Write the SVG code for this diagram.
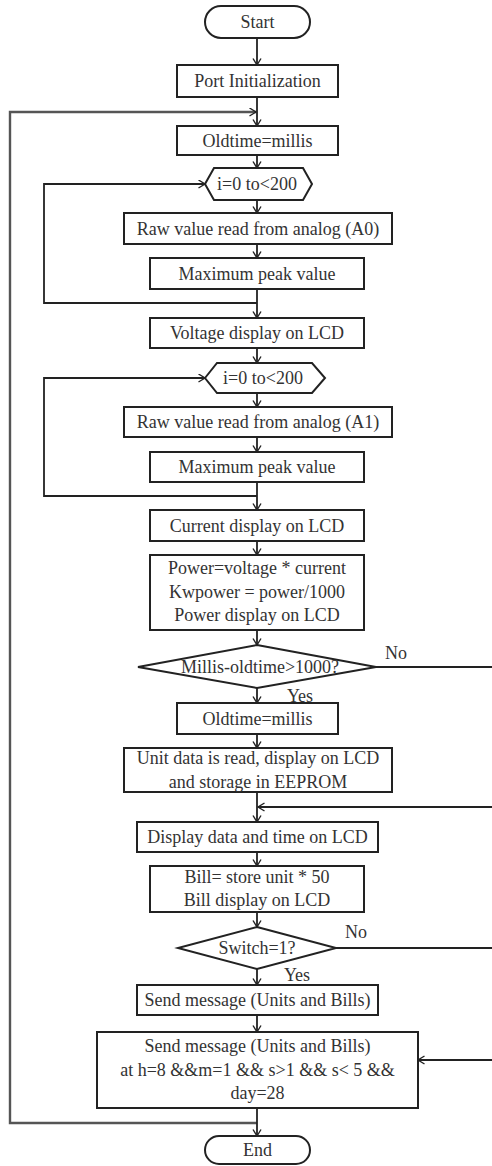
<svg xmlns="http://www.w3.org/2000/svg" width="492" height="1166" viewBox="0 0 492 1166">
<defs>
<marker id="ar" markerUnits="userSpaceOnUse" markerWidth="10" markerHeight="10" refX="7" refY="4.5" orient="auto">
<path d="M0.5,0.5 L7,4.5 L0.5,8.5" fill="none" stroke="#222" stroke-width="1.4"/>
</marker>
<style>
.b{fill:#fff;stroke:#222;stroke-width:2}
.t{font-family:"Liberation Serif","Times New Roman",serif;font-size:18px;fill:#333;text-anchor:middle}
.c{fill:none;stroke:#222;stroke-width:1.8}
.o{fill:none;stroke:#555;stroke-width:2.4}
</style>
</defs>
<rect width="492" height="1166" fill="#fff"/>
<g id="connectors">
<path class="c" d="M257,38 V65" marker-end="url(#ar)"/>
<path class="c" d="M257,97 V126" marker-end="url(#ar)"/>
<path class="o" d="M257,1123 H10 V112 H256" marker-end="url(#ar)"/>
<path class="c" d="M257,155 V168" marker-end="url(#ar)"/>
<path class="c" d="M257,200 V213" marker-end="url(#ar)"/>
<path class="c" d="M257,244 V258" marker-end="url(#ar)"/>
<path class="c" d="M257,289 V318" marker-end="url(#ar)"/>
<path class="c" d="M257,303 H44 V184 H205" marker-end="url(#ar)"/>
<path class="c" d="M257,348 V363" marker-end="url(#ar)"/>
<path class="c" d="M257,393 V407" marker-end="url(#ar)"/>
<path class="c" d="M257,437 V452" marker-end="url(#ar)"/>
<path class="c" d="M257,482 V510" marker-end="url(#ar)"/>
<path class="c" d="M257,496 H44 V378 H205" marker-end="url(#ar)"/>
<path class="c" d="M257,541 V555" marker-end="url(#ar)"/>
<path class="c" d="M257,630 V645" marker-end="url(#ar)"/>
<path class="c" d="M257,688 V703" marker-end="url(#ar)"/>
<path class="c" d="M376,667 H492"/>
<path class="c" d="M257,734 V748" marker-end="url(#ar)"/>
<path class="c" d="M257,792 V822" marker-end="url(#ar)"/>
<path class="c" d="M492,807 H258" marker-end="url(#ar)"/>
<path class="c" d="M257,852 V866" marker-end="url(#ar)"/>
<path class="c" d="M257,912 V927" marker-end="url(#ar)"/>
<path class="c" d="M257,969 V985" marker-end="url(#ar)"/>
<path class="c" d="M336,948 H492"/>
<path class="c" d="M257,1015 V1032" marker-end="url(#ar)"/>
<path class="c" d="M492,1060 H418" marker-end="url(#ar)"/>
<path class="c" d="M257,1108 V1136" marker-end="url(#ar)"/>
<text class="t" x="396" y="659">No</text>
<text class="t" x="300" y="702">Yes</text>
<text class="t" x="356" y="938">No</text>
<text class="t" x="297" y="981">Yes</text>
</g>
<g id="start"><rect class="b" x="205" y="6" width="105" height="32" rx="16"/><text class="t" x="257.5" y="28">Start</text></g>
<g id="port-init"><rect class="b" x="177" y="65" width="161" height="32"/><text class="t" x="257.5" y="87">Port Initialization</text></g>
<g id="oldtime1"><rect class="b" x="177" y="126" width="161" height="29"/><text class="t" x="257.5" y="146.5">Oldtime=millis</text></g>
<g id="loop1"><polygon class="b" points="205,184 214,168 303,168 312,184 303,200 214,200"/><text class="t" x="257" y="190">i=0 to&lt;200</text></g>
<g id="raw-a0"><rect class="b" x="124" y="213" width="268" height="31"/><text class="t" x="258" y="234.5">Raw value read from analog (A0)</text></g>
<g id="max1"><rect class="b" x="150" y="258" width="214" height="31"/><text class="t" x="257" y="279.5">Maximum peak value</text></g>
<g id="voltage"><rect class="b" x="150" y="318" width="214" height="30"/><text class="t" x="257" y="339">Voltage display on LCD</text></g>
<g id="loop2"><polygon class="b" points="205,378 217,363 312,363 325,378 312,393 217,393"/><text class="t" x="263" y="384">i=0 to&lt;200</text></g>
<g id="raw-a1"><rect class="b" x="124" y="407" width="268" height="30"/><text class="t" x="258" y="428">Raw value read from analog (A1)</text></g>
<g id="max2"><rect class="b" x="150" y="452" width="214" height="30"/><text class="t" x="257" y="473">Maximum peak value</text></g>
<g id="current"><rect class="b" x="150" y="510" width="214" height="31"/><text class="t" x="257" y="531.5">Current display on LCD</text></g>
<g id="power"><rect class="b" x="150" y="555" width="214" height="75"/><text class="t" x="257" y="574">Power=voltage * current</text><text class="t" x="257" y="598">Kwpower = power/1000</text><text class="t" x="257" y="621">Power display on LCD</text></g>
<g id="millis-check"><polygon class="b" points="257,645 376,667 257,688 138,667"/><text class="t" x="260" y="673">Millis-oldtime&gt;1000?</text></g>
<g id="oldtime2"><rect class="b" x="177" y="703" width="161" height="31"/><text class="t" x="257.5" y="724.5">Oldtime=millis</text></g>
<g id="unit-data"><rect class="b" x="124" y="748" width="268" height="44"/><text class="t" x="258" y="764">Unit data is read, display on LCD</text><text class="t" x="258" y="788">and storage in EEPROM</text></g>
<g id="display-date"><rect class="b" x="137" y="822" width="241" height="30"/><text class="t" x="257.5" y="843">Display data and time on LCD</text></g>
<g id="bill"><rect class="b" x="150" y="866" width="214" height="46"/><text class="t" x="257" y="883">Bill= store unit * 50</text><text class="t" x="257" y="906">Bill display on LCD</text></g>
<g id="switch"><polygon class="b" points="257,927 336,948 257,969 178,948"/><text class="t" x="257" y="954">Switch=1?</text></g>
<g id="send1"><rect class="b" x="137" y="985" width="241" height="30"/><text class="t" x="257.5" y="1006">Send message (Units and Bills)</text></g>
<g id="send2"><rect class="b" x="97" y="1032" width="321" height="76"/><text class="t" x="257.5" y="1052">Send message (Units and Bills)</text><text class="t" x="257.5" y="1076">at h=8 &amp;&amp;m=1 &amp;&amp; s&gt;1 &amp;&amp; s&lt; 5 &amp;&amp;</text><text class="t" x="257.5" y="1099">day=28</text></g>
<g id="end"><rect class="b" x="205" y="1136" width="105" height="28" rx="14"/><text class="t" x="257.5" y="1156">End</text></g>
</svg>
